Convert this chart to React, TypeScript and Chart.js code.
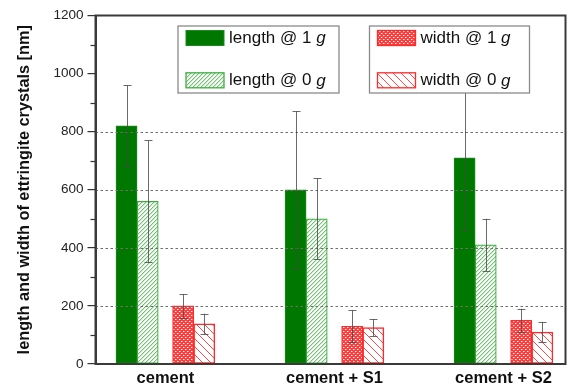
import React, { useEffect, useRef } from 'react';
import { Chart, registerables } from 'chart.js';

Chart.register(...registerables);

const categories = ['cement', 'cement + S1', 'cement + S2'];
const seriesNames = ['length @ 1 ', 'length @ 0 ', 'width @ 1 ', 'width @ 0 '];
const length1g = [820, 600, 710];
const length1gErr = [140, 270, 250];
const length0g = [560, 500, 410];
const length0gErr = [210, 140, 90];
const width1g = [200, 130, 150];
const width1gErr = [40, 55, 40];
const width0g = [138, 125, 110];
const width0gErr = [35, 30, 35];
const yTickValues = [0, 200, 400, 600, 800, 1000, 1200];
const gridValues = [200, 400, 600, 800];
const minorTickValues = [100, 300, 500, 700, 900, 1100];

const FONT = "'Liberation Sans', Arial, Helvetica, sans-serif";
const BAR_OFFSETS = [-0.23, -0.105, 0.105, 0.23];

function makePattern(kind: string): CanvasPattern | string {
  const c = document.createElement('canvas');
  if (kind === 'redHatch') { c.width = 8; c.height = 8; } else { c.width = 4; c.height = 4; }
  const ctx = c.getContext('2d');
  if (!ctx) return '#fff';
  if (kind === 'greenHatch') {
    ctx.fillStyle = '#ffffff';
    ctx.fillRect(0, 0, 4, 4);
    ctx.fillStyle = '#6cc56c';
    // pixel diagonal "/" line
    ctx.fillRect(3, 0, 1, 1);
    ctx.fillRect(2, 1, 1, 1);
    ctx.fillRect(1, 2, 1, 1);
    ctx.fillRect(0, 3, 1, 1);
    ctx.fillStyle = 'rgba(108,197,108,0.35)';
    ctx.fillRect(3, 1, 1, 1);
    ctx.fillRect(2, 2, 1, 1);
    ctx.fillRect(1, 3, 1, 1);
    ctx.fillRect(0, 0, 1, 1);
  } else if (kind === 'redCross') {
    ctx.fillStyle = '#ff3d3d';
    ctx.fillRect(0, 0, 4, 4);
    ctx.fillStyle = '#ffffff';
    ctx.fillRect(1, 1, 1, 1);
    ctx.fillRect(3, 3, 1, 1);
    ctx.fillStyle = 'rgba(255,255,255,0.45)';
    ctx.fillRect(2, 1, 1, 1);
    ctx.fillRect(0, 3, 1, 1);
  } else {
    ctx.fillStyle = '#ffffff';
    ctx.fillRect(0, 0, 8, 8);
    ctx.strokeStyle = '#ff4a4a';
    ctx.lineWidth = 1;
    ctx.beginPath();
    ctx.moveTo(-1, -1); ctx.lineTo(9, 9);
    ctx.moveTo(7, -1); ctx.lineTo(9, 1);
    ctx.moveTo(-1, 7); ctx.lineTo(1, 9);
    ctx.stroke();
  }
  const p = ctx.createPattern(c, 'repeat');
  return p || '#fff';
}

export default function App() {
  const canvasRef = useRef<HTMLCanvasElement | null>(null);

  useEffect(() => {
    const canvas = canvasRef.current;
    if (!canvas) return;

    const greenHatch = makePattern('greenHatch');
    const redCross = makePattern('redCross');
    const redHatch = makePattern('redHatch');

    const values = [length1g, length0g, width1g, width0g];
    const errors = [length1gErr, length0gErr, width1gErr, width0gErr];
    const fills = ['#007800', greenHatch, redCross, redHatch];
    const borders = ['#1f8a1f', '#3fae3f', '#ff2a2a', '#ff2a2a'];
    const borderWidths = [1, 1.2, 1.2, 1.5];

    const datasets = values.map((vals, di) => ({
      label: seriesNames[di],
      data: vals.map((v, i) => ({ x: i + BAR_OFFSETS[di], y: v })),
      backgroundColor: fills[di] as any,
      borderColor: borders[di],
      borderWidth: borderWidths[di],
      borderSkipped: false as any,
      grouped: false,
      barPercentage: 1,
      categoryPercentage: 1,
    }));

    const overlayPlugin = {
      id: 'overlay',
      afterDatasetsDraw(chart: any) {
        const { ctx, chartArea, scales } = chart;
        const y = scales.y;
        ctx.save();
        ctx.strokeStyle = '#6e6e6e';
        ctx.lineWidth = 1;
        ctx.setLineDash([2.5, 2.5]);
        gridValues.forEach((v) => {
          const py = Math.round(y.getPixelForValue(v)) + 0.5;
          ctx.beginPath();
          ctx.moveTo(chartArea.left, py);
          ctx.lineTo(chartArea.right, py);
          ctx.stroke();
        });
        ctx.setLineDash([]);
        ctx.strokeStyle = 'rgba(70,70,70,0.8)';
        ctx.lineWidth = 1;
        values.forEach((vals, di) => {
          const meta = chart.getDatasetMeta(di);
          vals.forEach((v, i) => {
            const el = meta.data[i];
            if (!el) return;
            const x = Math.round(el.x) + 0.5;
            const top = y.getPixelForValue(v + errors[di][i]);
            const bot = y.getPixelForValue(v - errors[di][i]);
            ctx.beginPath();
            ctx.moveTo(x, top);
            ctx.lineTo(x, bot);
            ctx.moveTo(x - 4, Math.round(top) + 0.5);
            ctx.lineTo(x + 4, Math.round(top) + 0.5);
            ctx.moveTo(x - 4, Math.round(bot) + 0.5);
            ctx.lineTo(x + 4, Math.round(bot) + 0.5);
            ctx.stroke();
          });
        });
        ctx.restore();
      },
      afterDraw(chart: any) {
        const { ctx, chartArea, scales } = chart;
        const y = scales.y;
        ctx.save();
        ctx.strokeStyle = '#333';
        ctx.lineWidth = 1.2;
        minorTickValues.forEach((v) => {
          const py = Math.round(y.getPixelForValue(v)) + 0.5;
          ctx.beginPath();
          ctx.moveTo(chartArea.left - 5, py);
          ctx.lineTo(chartArea.left, py);
          ctx.stroke();
        });
        const boxTop = chartArea.top + 10.5;
        const boxH = 67;
        const boxes = [
          { left: chartArea.left + 82.5, width: 161, items: [0, 1] },
          { left: chartArea.left + 274, width: 160, items: [2, 3] },
        ];
        boxes.forEach((b) => {
          ctx.fillStyle = '#ffffff';
          ctx.fillRect(b.left, boxTop, b.width, boxH);
          ctx.strokeStyle = '#8a8a8a';
          ctx.lineWidth = 1.3;
          ctx.strokeRect(b.left, boxTop, b.width, boxH);
          b.items.forEach((di, row) => {
            const sx = b.left + 8;
            const sy = boxTop + 4.5 + row * 42.3;
            ctx.fillStyle = fills[di] as any;
            ctx.fillRect(sx, sy, 38, 15);
            ctx.strokeStyle = borders[di];
            ctx.lineWidth = di === 0 ? 1 : 1.3;
            ctx.strokeRect(sx, sy, 38, 15);
            const tx = sx + 43;
            const ty = sy + 8;
            ctx.fillStyle = '#111';
            ctx.textBaseline = 'middle';
            ctx.textAlign = 'left';
            ctx.font = `17px ${FONT}`;
            ctx.fillText(seriesNames[di], tx, ty);
            const w = ctx.measureText(seriesNames[di]).width;
            ctx.font = `italic 17px ${FONT}`;
            ctx.fillText('g', tx + w, ty);
          });
        });
        ctx.strokeStyle = '#3a3a3a';
        ctx.lineWidth = 2;
        ctx.strokeRect(chartArea.left, chartArea.top, chartArea.right - chartArea.left, chartArea.bottom - chartArea.top);
        ctx.restore();
      },
    };

    const chart = new Chart(canvas, {
      type: 'bar',
      data: { datasets: datasets as any },
      options: {
        responsive: false,
        animation: false,
        devicePixelRatio: 1,
        layout: { padding: { top: 15.5, right: 3.5, left: 0, bottom: 0 } },
        plugins: {
          legend: { display: false },
          tooltip: { enabled: false },
        },
        scales: {
          x: {
            type: 'linear',
            offset: false,
            min: -0.4136,
            max: 2.367,
            grid: { display: false, drawTicks: false },
            border: { display: false },
            afterBuildTicks: (scale: any) => {
              scale.ticks = categories.map((_, i) => ({ value: i }));
            },
            afterFit: (scale: any) => {
              scale.height = 23;
            },
            ticks: {
              autoSkip: false,
              maxRotation: 0,
              padding: 5,
              color: '#111',
              font: { family: FONT, size: 16.5, weight: 'bold' },
              callback: (v: any) => categories[Math.round(Number(v))] ?? '',
            },
          },
          y: {
            min: 0,
            max: 1200,
            afterBuildTicks: (scale: any) => {
              scale.ticks = yTickValues.map((v) => ({ value: v }));
            },
            afterFit: (scale: any) => {
              scale.width = 95.5;
            },
            grid: {
              drawOnChartArea: false,
              drawTicks: true,
              tickLength: 8,
              color: '#333',
              lineWidth: 1.2,
            },
            border: { display: true, color: '#3a3a3a', width: 2 },
            ticks: {
              padding: 4,
              color: '#222',
              font: { family: FONT, size: 13.5 },
              callback: (v: any) => String(v),
            },
            title: {
              display: true,
              text: 'length and width of ettringite crystals [nm]',
              color: '#111',
              padding: { top: 15, bottom: 0 },
              font: { family: FONT, size: 16.3, weight: 'bold' },
            },
          },
        },
      },
      plugins: [overlayPlugin],
    });

    return () => chart.destroy();
  }, []);

  return (
    <div style={{ position: 'absolute', left: 0, top: 0, width: 569, height: 387, background: '#fff' }}>
      <canvas ref={canvasRef} width={569} height={387} />
    </div>
  );
}
